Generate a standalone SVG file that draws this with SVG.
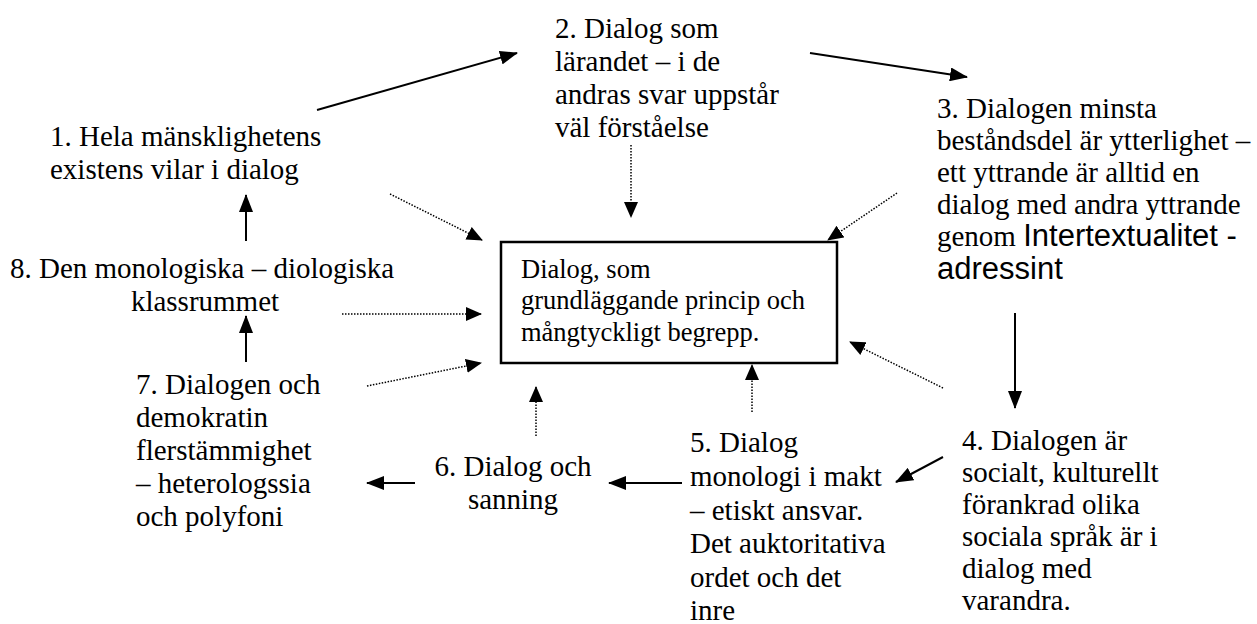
<svg xmlns="http://www.w3.org/2000/svg" width="1257" height="624" viewBox="0 0 1257 624">
<style>
text{font-family:"Liberation Serif","Times New Roman",serif;font-size:29px;fill:#000}
.box text{font-size:26.5px}
.sans{font-family:"Liberation Sans",Arial,sans-serif;font-size:31px}
.solid{stroke:#000;stroke-width:2;fill:none;marker-end:url(#ah)}
.dot{stroke:#000;stroke-width:1.5;stroke-dasharray:1.5 1.5;fill:none;marker-end:url(#ahs)}
</style>
<defs>
<marker id="ah" markerWidth="18" markerHeight="14" refX="17" refY="7" orient="auto" markerUnits="userSpaceOnUse"><path d="M0,0 L18,7 L0,14 z" fill="#000"/></marker>
<marker id="ahs" markerWidth="16" markerHeight="14" refX="15" refY="7" orient="auto" markerUnits="userSpaceOnUse"><path d="M0,0 L16,7 L0,14 z" fill="#000"/></marker>
</defs>
<rect width="1257" height="624" fill="#fff"/>
<g id="connectors">
<line class="solid" x1="317" y1="110" x2="517" y2="53"/>
<line class="solid" x1="810" y1="53" x2="967" y2="77"/>
<line class="solid" x1="1015" y1="313" x2="1015" y2="408"/>
<line class="solid" x1="943" y1="457" x2="896" y2="482"/>
<line class="solid" x1="682" y1="483" x2="609" y2="483"/>
<line class="solid" x1="415" y1="483" x2="367" y2="483"/>
<line class="solid" x1="246" y1="362" x2="246" y2="316"/>
<line class="solid" x1="246" y1="241" x2="246" y2="195"/>
<line class="dot" x1="631" y1="145" x2="631" y2="217"/>
<line class="dot" x1="390" y1="194" x2="482" y2="240"/>
<line class="dot" x1="897" y1="193" x2="828" y2="240"/>
<line class="dot" x1="342" y1="314" x2="481" y2="314"/>
<line class="dot" x1="367" y1="386" x2="481" y2="363"/>
<line class="dot" x1="943" y1="388" x2="850" y2="342"/>
<line class="dot" x1="752" y1="412" x2="752" y2="365"/>
<line class="dot" x1="536" y1="436" x2="536" y2="387"/>
</g>
<g id="center" class="box">
<rect x="501" y="242" width="336" height="121" fill="#fff" stroke="#000" stroke-width="2.5"/>
<text x="521" y="278">Dialog, som</text>
<text x="521" y="309">grundläggande princip och</text>
<text x="521" y="341">mångtyckligt begrepp.</text>
</g>
<g id="n1">
<text x="50" y="146">1. Hela mänsklighetens</text>
<text x="50" y="179">existens vilar i dialog</text>
</g>
<g id="n2">
<text x="555" y="38">2. Dialog som</text>
<text x="555" y="71">lärandet – i de</text>
<text x="555" y="104">andras svar uppstår</text>
<text x="555" y="137">väl förståelse</text>
</g>
<g id="n3">
<text x="937" y="118">3. Dialogen minsta</text>
<text x="937" y="150">beståndsdel är ytterlighet –</text>
<text x="937" y="182">ett yttrande är alltid en</text>
<text x="937" y="214">dialog med andra yttrande</text>
<text x="937" y="246">genom <tspan class="sans">Intertextualitet -</tspan></text>
<text x="937" y="279" class="sans">adressint</text>
</g>
<g id="n4">
<text x="962" y="450">4. Dialogen är</text>
<text x="962" y="482">socialt, kulturellt</text>
<text x="962" y="514">förankrad olika</text>
<text x="962" y="546">sociala språk är i</text>
<text x="962" y="578">dialog med</text>
<text x="962" y="610">varandra.</text>
</g>
<g id="n5">
<text x="690" y="452">5. Dialog</text>
<text x="690" y="486">monologi i makt</text>
<text x="690" y="520">– etiskt ansvar.</text>
<text x="690" y="553">Det auktoritativa</text>
<text x="690" y="587">ordet och det</text>
<text x="690" y="620">inre</text>
</g>
<g id="n6">
<text x="513" y="476" text-anchor="middle">6. Dialog och</text>
<text x="513" y="509" text-anchor="middle">sanning</text>
</g>
<g id="n7">
<text x="136" y="394">7. Dialogen och</text>
<text x="136" y="427">demokratin</text>
<text x="136" y="460">flerstämmighet</text>
<text x="136" y="493">– heterologssia</text>
<text x="136" y="526">och polyfoni</text>
</g>
<g id="n8">
<text x="10" y="278">8. Den monologiska – diologiska</text>
<text x="205" y="311" text-anchor="middle">klassrummet</text>
</g>
</svg>
